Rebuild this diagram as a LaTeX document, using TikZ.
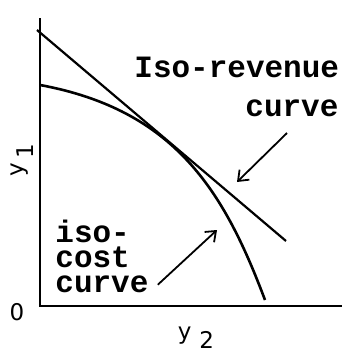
\documentclass[tikz,border=0pt]{standalone}
\usepackage{fontspec}
\usepackage{tikz}
\usetikzlibrary{arrows.meta}
\newfontfamily\typefont{Liberation Mono}
\newfontfamily\axisfont{DejaVu Sans}

\begin{document}
\begin{tikzpicture}[x=0.5pt, y=-0.5pt,
  axisline/.style={line width=1.25pt},
  curveline/.style={line width=1.1pt},
  pointer/.style={line width=0.9pt, -{Straight Barb[length=4.5pt, width=7pt]}},
  tlabel/.style={inner sep=0pt, font=\typefont\bfseries\fontsize{15.5}{12.5}\selectfont},
  alabel/.style={inner sep=0pt, font=\axisfont\fontsize{11.5}{11.5}\selectfont}]
  \useasboundingbox (0,0) rectangle (342,359);

  \coordinate (origin) at (40,306);
  \coordinate (ytop) at (40,18);
  \coordinate (xend) at (342,306);
  \draw[axisline] (ytop) -- (origin) -- (xend);

  \coordinate (revA) at (37,30);
  \coordinate (revB) at (286,241);
  \draw[curveline] (revA) -- (revB);

  \coordinate (costA) at (40,85);
  \coordinate (costB) at (265,300);
  \draw[curveline, line width=1.3pt] (costA) .. controls (175,110) and (224,191) .. (costB);

  \node[alabel] (zero) at (17,312) {0};
  \node[alabel] (ytwo) at (196,338) {y\hspace{4pt}\raisebox{-0.7ex}{2}};
  \node[alabel, rotate=90] (yone) at (22,160) {y\hspace{2pt}\raisebox{-0.8ex}{1}};

  \node[tlabel, anchor=base west] (rev1) at (134,77) {Iso-revenue};
  \node[tlabel, anchor=base west] (rev2) at (245,116) {curve};
  \node[tlabel, anchor=base west, align=left] (costlbl) at (55,292) {iso-\\cost\\curve};

  \coordinate (revtail) at (287,133);
  \coordinate (revtip) at (237,182);
  \draw[pointer] (revtail) -- (revtip);
  \coordinate (costtip) at (217,230);
  \draw[pointer] ([shift={(4.5pt,4pt)}]costlbl.south east) -- (costtip);
\end{tikzpicture}
\end{document}
